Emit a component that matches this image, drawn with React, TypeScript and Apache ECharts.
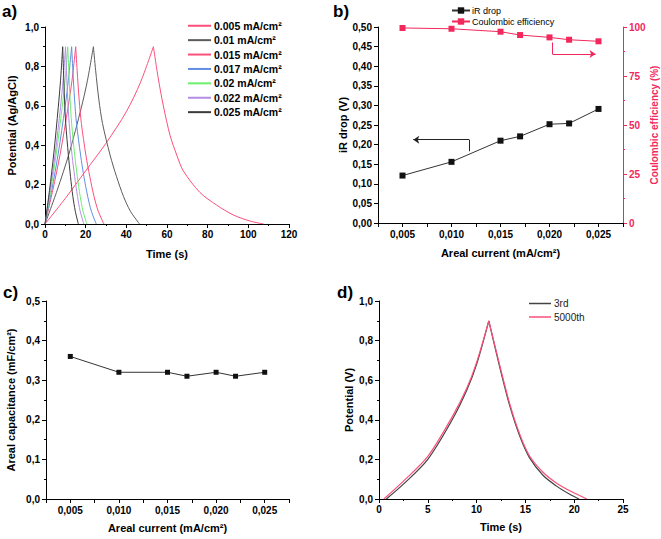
import React, { useEffect, useRef } from "react";
import * as echarts from "echarts";

// ---------- Panel a: galvanostatic charge/discharge curves (time s, potential V)
const curve005 = [[0,0],[10,0.13],[20,0.27],[30,0.41],[40,0.57],[47,0.72],[53.3,0.9],[55.7,0.74],[58.2,0.6],[61.5,0.45],[64.8,0.35],[68,0.27],[76.2,0.16],[84.4,0.096],[92.6,0.046],[100.8,0.015],[107.5,0]];
const curve010 = [[0,0],[5.95,0.17],[11.9,0.36],[17.85,0.59],[20.9,0.73],[23.8,0.9],[24.9,0.78],[26.5,0.63],[28.3,0.51],[32.0,0.35],[35.2,0.24],[38.6,0.14],[42.0,0.065],[46.5,0]];
const curve015 = [[0,0],[3.8,0.17],[7.55,0.36],[11.3,0.59],[13.3,0.73],[15.1,0.9],[15.8,0.78],[16.8,0.63],[17.9,0.51],[20.1,0.35],[22.05,0.24],[24.1,0.14],[26.2,0.065],[29,0]];
const curve017 = [[0,0],[3.3,0.17],[6.55,0.36],[9.8,0.59],[11.5,0.73],[13.1,0.9],[13.7,0.78],[14.55,0.63],[15.5,0.51],[17.5,0.35],[19.15,0.24],[21.0,0.14],[22.8,0.065],[25.2,0]];
const curve020 = [[0,0],[2.8,0.17],[5.6,0.36],[8.4,0.59],[9.9,0.73],[11.2,0.9],[11.7,0.78],[12.35,0.63],[13.1,0.51],[14.6,0.35],[15.9,0.24],[17.3,0.14],[18.7,0.065],[20.6,0]];
const curve022 = [[0,0],[2.5,0.17],[5.05,0.36],[7.6,0.59],[8.9,0.73],[10.1,0.9],[10.55,0.78],[11.2,0.63],[11.9,0.51],[13.3,0.35],[14.6,0.24],[16.0,0.14],[17.3,0.065],[19.1,0]];
const curve025 = [[0,0],[2.2,0.17],[4.35,0.36],[6.5,0.59],[7.65,0.73],[8.7,0.9],[9.1,0.78],[9.6,0.63],[10.2,0.51],[11.5,0.35],[12.55,0.24],[13.7,0.14],[14.9,0.065],[16.4,0]];
const curveNames = ["0.005 mA/cm²","0.01 mA/cm²","0.015 mA/cm²","0.017 mA/cm²","0.02 mA/cm²","0.022 mA/cm²","0.025 mA/cm²"];
const curveData = [curve005, curve010, curve015, curve017, curve020, curve022, curve025];
const curveColors = ["#fb4f7c","#5c5c5c","#fb4f7c","#5f8fe0","#6cef6c","#b48ee6","#3a3a3a"];

// ---------- Panel b / c: areal current
const arealCurrent = [0.005, 0.01, 0.015, 0.017, 0.02, 0.022, 0.025];
const irDrop = [0.121, 0.156, 0.21, 0.221, 0.252, 0.254, 0.291];
const coulombicEff = [99.5, 99.1, 97.6, 95.9, 94.7, 93.5, 92.7];
const arealCap = [0.36, 0.32, 0.32, 0.31, 0.32, 0.31, 0.32];
// annotation arrows (data coordinates)
const irArrow = [[0.0118, 0.183], [0.0118, 0.2126], [0.0061, 0.2126]];
const ceArrow = [[0.0203, 92.1], [0.0203, 86.2], [0.0247, 86.2]];

// ---------- Panel d: 3rd vs 5000th cycle
const cycle3 = [[0.75,0],[2.5,0.075],[5,0.2],[7.5,0.4],[9,0.55],[10,0.68],[11.25,0.9],[12.4,0.66],[13.4,0.47],[14.4,0.32],[15.4,0.21],[16.8,0.12],[18.2,0.065],[19.5,0.025],[20.5,0]];
const cycle5000 = [[0.5,0],[2.5,0.09],[5,0.215],[7.5,0.415],[9,0.56],[10,0.69],[11.25,0.9],[12.4,0.67],[13.4,0.48],[14.4,0.33],[15.4,0.22],[16.8,0.135],[18.2,0.08],[19.8,0.035],[21.3,0]];

const FONT = "Liberation Sans";
const RED = "#f2285c";
const PINK = "#fb4f7c";

const comma = (v: number, d: number) => v.toFixed(d).replace(".", ",");

function baseAxis(extra: any) {
  return {
    axisLine: { show: true, lineStyle: { color: "#000", width: 1 } },
    axisTick: { show: true, length: 4, lineStyle: { color: "#000" } },
    splitLine: { show: false },
    nameLocation: "middle",
    nameTextStyle: { fontFamily: FONT, fontWeight: "bold", fontSize: 11, color: "#000" },
    axisLabel: { fontFamily: FONT, fontWeight: "bold", fontSize: 10, color: "#000", margin: 5 },
    ...extra,
  };
}

const currentFormatter = (v: number) => {
  const k = Math.round(v / 0.0025);
  return k % 2 === 0 ? comma(k * 0.0025, 3) : "";
};

// split a charge/discharge curve at its peak so each branch can be smoothed
// while the peak stays sharp
function splitAtPeak(d: number[][]) {
  let p = 0;
  d.forEach((pt, i) => { if (pt[1] > d[p][1]) p = i; });
  return [d.slice(0, p + 1), d.slice(p)];
}

function curveSeries(name: string, d: number[][], color: string, xi: number, yi: number, width: number) {
  return splitAtPeak(d).map((part) => ({
    name,
    type: "line",
    xAxisIndex: xi,
    yAxisIndex: yi,
    data: part,
    symbol: "none",
    smooth: 0.3,
    lineStyle: { width, color },
    itemStyle: { color },
  }));
}

export default function App() {
  const ref = useRef<HTMLDivElement>(null);
  useEffect(() => {
    if (!ref.current) return;
    const chart = echarts.init(ref.current, null, { renderer: "svg" });
    const aSeries = curveData.flatMap((d, i) => curveSeries(curveNames[i], d, curveColors[i], 0, 0, 1));
    const arrowLine = (pts: number[][], color: string) => ({
      silent: true,
      symbol: ["none", "none"],
      symbolSize: 6,
      label: { show: false },
      lineStyle: { color, width: 1, type: "solid" },
      emphasis: { disabled: true },
      data: [
        [{ coord: pts[0], symbol: "none" }, { coord: pts[1], symbol: "none" }],
        [{ coord: pts[1], symbol: "none" }, { coord: pts[2], symbol: "arrow", symbolSize: 6 }],
      ],
    });
    const option: any = {
      animation: false,
      textStyle: { fontFamily: FONT },
      grid: [
        { left: 45, top: 27, width: 244, height: 197 },
        { left: 378, top: 27, width: 245, height: 196 },
        { left: 46, top: 301, width: 243, height: 198 },
        { left: 379, top: 301, width: 244, height: 198 },
      ],
      xAxis: [
        baseAxis({ type: "value", gridIndex: 0, min: 0, max: 120, interval: 20, name: "Time (s)", nameGap: 24,
          minorTick: { show: true, splitNumber: 2, length: 2, lineStyle: { color: "#000" } } }),
        baseAxis({ type: "value", gridIndex: 1, min: 0.0025, max: 0.0275, interval: 0.0025, name: "Areal current (mA/cm²)", nameGap: 24,
          axisLabel: { fontFamily: FONT, fontWeight: "bold", fontSize: 10, color: "#000", margin: 6, formatter: currentFormatter } }),
        baseAxis({ type: "value", gridIndex: 2, min: 0.0025, max: 0.0275, interval: 0.0025, name: "Areal current (mA/cm²)", nameGap: 23,
          axisLabel: { fontFamily: FONT, fontWeight: "bold", fontSize: 10, color: "#000", margin: 6, formatter: currentFormatter } }),
        baseAxis({ type: "value", gridIndex: 3, min: 0, max: 25, interval: 5, name: "Time (s)", nameGap: 22,
          minorTick: { show: true, splitNumber: 2, length: 2, lineStyle: { color: "#000" } } }),
      ],
      yAxis: [
        baseAxis({ type: "value", gridIndex: 0, min: 0, max: 1, interval: 0.2, name: "Potential (Ag/AgCl)", nameGap: 28, nameRotate: 90,
          minorTick: { show: true, splitNumber: 2, length: 2, lineStyle: { color: "#000" } },
          axisLabel: { fontFamily: FONT, fontWeight: "bold", fontSize: 10, color: "#000", margin: 6, formatter: (v: number) => comma(v, 1) } }),
        baseAxis({ type: "value", gridIndex: 1, min: 0, max: 0.5, interval: 0.05, name: "iR drop (V)", nameGap: 30, nameRotate: 90,
          axisLabel: { fontFamily: FONT, fontWeight: "bold", fontSize: 10, color: "#000", margin: 6, formatter: (v: number) => comma(v, 2) } }),
        baseAxis({ type: "value", gridIndex: 1, position: "right", min: 0, max: 100, interval: 25, name: "Coulombic efficiency (%)", nameGap: 23, nameRotate: 90,
          axisLine: { show: true, lineStyle: { color: RED, width: 1 } },
          axisTick: { show: true, length: 4, lineStyle: { color: RED } },
          minorTick: { show: true, splitNumber: 2, length: 2, lineStyle: { color: RED } },
          nameTextStyle: { fontFamily: FONT, fontWeight: "bold", fontSize: 10, color: RED },
          axisLabel: { fontFamily: FONT, fontWeight: "bold", fontSize: 10, color: RED, margin: 6 } }),
        baseAxis({ type: "value", gridIndex: 2, min: 0, max: 0.5, interval: 0.1, name: "Areal capacitance (mF/cm²)", nameGap: 30, nameRotate: 90,
          minorTick: { show: true, splitNumber: 2, length: 2, lineStyle: { color: "#000" } },
          axisLabel: { fontFamily: FONT, fontWeight: "bold", fontSize: 10, color: "#000", margin: 6, formatter: (v: number) => comma(v, 1) } }),
        baseAxis({ type: "value", gridIndex: 3, min: 0, max: 1, interval: 0.2, name: "Potential (V)", nameGap: 25, nameRotate: 90,
          minorTick: { show: true, splitNumber: 2, length: 2, lineStyle: { color: "#000" } },
          axisLabel: { fontFamily: FONT, fontWeight: "bold", fontSize: 10, color: "#000", margin: 6, formatter: (v: number) => comma(v, 1) } }),
      ],
      legend: [
        {
          data: curveNames, orient: "vertical", left: 183, top: 15, icon: "rect", itemWidth: 23, itemHeight: 2, itemGap: 2.9,
          textStyle: { fontFamily: FONT, fontWeight: "bold", fontSize: 10.5, color: "#000", padding: [0, 0, 0, -2], lineHeight: 11.5 },
          selectedMode: false,
        },
        {
          data: ["iR drop", "Coulombic efficiency"], orient: "vertical", left: 446, top: 1, itemWidth: 18, itemHeight: 8, itemGap: 2,
          textStyle: { fontFamily: FONT, fontSize: 9, color: "#000", padding: [0, 0, 0, -3] },
          selectedMode: false,
        },
        {
          data: ["3rd", "5000th"], orient: "vertical", left: 524, top: 293, icon: "rect", itemWidth: 22, itemHeight: 1.5, itemGap: 2.5,
          textStyle: { fontFamily: FONT, fontSize: 10, color: "#222", padding: [0, 0, 0, -2], lineHeight: 11 },
          selectedMode: false,
        },
      ],
      graphic: [
        { type: "text", left: 2, top: 3, style: { text: "a)", font: `bold 17px ${FONT}`, fill: "#000" } },
        { type: "text", left: 333, top: 3, style: { text: "b)", font: `bold 17px ${FONT}`, fill: "#000" } },
        { type: "text", left: 3, top: 284, style: { text: "c)", font: `bold 17px ${FONT}`, fill: "#000" } },
        { type: "text", left: 337, top: 284, style: { text: "d)", font: `bold 17px ${FONT}`, fill: "#000" } },
      ],
      series: [
        ...aSeries,
        {
          name: "iR drop", type: "line", xAxisIndex: 1, yAxisIndex: 1,
          data: arealCurrent.map((x, i) => [x, irDrop[i]]),
          symbol: "rect", symbolSize: 6,
          lineStyle: { width: 1, color: "#333" }, itemStyle: { color: "#111" },
          markLine: arrowLine(irArrow, "#222"),
        },
        {
          name: "Coulombic efficiency", type: "line", xAxisIndex: 1, yAxisIndex: 2,
          data: arealCurrent.map((x, i) => [x, coulombicEff[i]]),
          symbol: "rect", symbolSize: 6,
          lineStyle: { width: 1, color: RED }, itemStyle: { color: RED },
          markLine: arrowLine(ceArrow, RED),
        },
        {
          name: "Areal capacitance", type: "line", xAxisIndex: 2, yAxisIndex: 3,
          data: arealCurrent.map((x, i) => [x, arealCap[i]]),
          symbol: "rect", symbolSize: 5,
          lineStyle: { width: 1, color: "#333" }, itemStyle: { color: "#111" },
        },
        ...curveSeries("3rd", cycle3, "#444", 3, 4, 1.2),
        ...curveSeries("5000th", cycle5000, PINK, 3, 4, 1.2),
      ],
    };
    chart.setOption(option);
    return () => chart.dispose();
  }, []);
  return (
    <div
      ref={ref}
      style={{ position: "fixed", left: 0, top: 0, width: 661, height: 539, background: "#fff" }}
    />
  );
}
